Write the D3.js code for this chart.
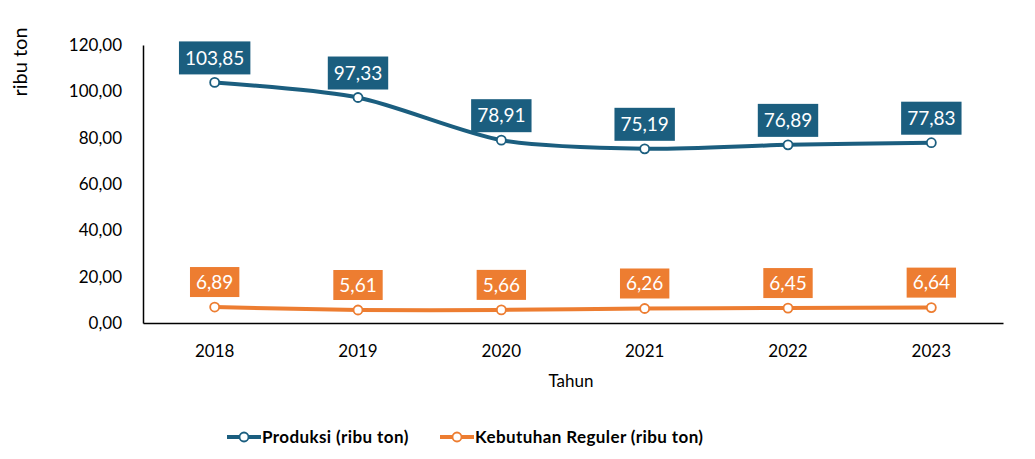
<!DOCTYPE html>
<html>
<head>
<meta charset="utf-8">
<script src="https://cdn.jsdelivr.net/npm/d3@7"></script>
<style>
  body { margin: 0; background: #fff; }
  text { font-family: Lato, "Open Sans", sans-serif; }
</style>
</head>
<body>
<div id="chart"></div>
<script>
  // data
  var years = ["2018", "2019", "2020", "2021", "2022", "2023"]
  var produksi = [103.85, 97.33, 78.91, 75.19, 76.89, 77.83]
  var kebutuhan = [6.89, 5.61, 5.66, 6.26, 6.45, 6.64]
  var yTicks = [0, 20, 40, 60, 80, 100, 120]
  var seriesNames = ["Produksi (ribu ton)", "Kebutuhan Reguler (ribu ton)"]
  var colors = ["#1b5e7f", "#ed7d31"]

  var width = 1035, height = 459
  var plotLeft = 143, plotRight = 1003, plotTop = 45, plotBottom = 323

  var svg = d3.select("#chart").append("svg")
    .attr("width", width)
    .attr("height", height)

  var x = d3.scaleBand().domain(years).range([plotLeft, plotRight])
  var y = d3.scaleLinear().domain([0, 120]).range([plotBottom, plotTop])

  var fmt = function(v) { return d3.format(".2f")(v).replace(".", ",") }

  // y axis
  var yAxis = svg.append("g")
    .attr("transform", "translate(" + plotLeft + ",0)")
    .call(d3.axisLeft(y).tickValues(yTicks).tickFormat(fmt).tickSize(0).tickPadding(21))
  yAxis.select(".domain").attr("stroke", "#000").attr("stroke-width", 1.5)
  yAxis.selectAll("text").attr("font-size", 17).attr("fill", "#000")
    .style("font-family", "Lato, sans-serif")

  // x axis
  var xAxis = svg.append("g")
    .attr("transform", "translate(0," + plotBottom + ")")
    .call(d3.axisBottom(x).tickSize(0).tickPadding(22))
  xAxis.select(".domain").attr("stroke", "#000").attr("stroke-width", 1.5)
  xAxis.selectAll("text").attr("font-size", 17).attr("fill", "#000")
    .style("font-family", "Lato, sans-serif")

  // axis titles
  svg.append("text")
    .attr("transform", "translate(27,62) rotate(-90)")
    .attr("text-anchor", "middle")
    .attr("font-size", 20)
    .text("ribu ton")

  svg.append("text")
    .attr("x", 571).attr("y", 387)
    .attr("text-anchor", "middle")
    .attr("font-size", 17)
    .text("Tahun")

  var cx = function(d, i) { return x(years[i]) + x.bandwidth() / 2 }

  var series = [produksi, kebutuhan]

  series.forEach(function(values, s) {
    var line = d3.line()
      .x(function(d, i) { return cx(d, i) })
      .y(function(d) { return y(d) })
      .curve(d3.curveCardinal.tension(0.2))

    svg.append("path")
      .datum(values)
      .attr("d", line)
      .attr("fill", "none")
      .attr("stroke", colors[s])
      .attr("stroke-width", 4)

    svg.append("g").selectAll("circle")
      .data(values)
      .enter().append("circle")
      .attr("cx", cx)
      .attr("cy", function(d) { return y(d) })
      .attr("r", 4.5)
      .attr("fill", "#fff")
      .attr("stroke", colors[s])
      .attr("stroke-width", 1.8)

    // value labels in boxes
    var boxH = s === 0 ? 33 : 30
    var gap = s === 0 ? 8 : 10
    var labels = svg.append("g").selectAll("g")
      .data(values)
      .enter().append("g")

    labels.append("text")
      .attr("x", cx)
      .attr("y", function(d) { return y(d) - gap - boxH / 2 })
      .attr("dy", "0.35em")
      .attr("text-anchor", "middle")
      .attr("font-size", 19)
      .attr("fill", "#fff")
      .text(fmt)
      .each(function() {
        var bb = this.getBBox()
        d3.select(this.parentNode).insert("rect", "text")
          .attr("x", bb.x - 6)
          .attr("y", +d3.select(this).attr("y") - boxH / 2)
          .attr("width", bb.width + 12)
          .attr("height", boxH)
          .attr("fill", colors[s])
      })
  })

  // legend
  var legendItems = [{ x: 227, name: seriesNames[0], c: colors[0] }, { x: 440, name: seriesNames[1], c: colors[1] }]
  var legend = svg.append("g").selectAll("g")
    .data(legendItems)
    .enter().append("g")
    .attr("transform", function(d) { return "translate(" + d.x + ",437)" })

  legend.append("line")
    .attr("x1", 0).attr("x2", 34)
    .attr("stroke", function(d) { return d.c })
    .attr("stroke-width", 4)
  legend.append("circle")
    .attr("cx", 17).attr("r", 4.5)
    .attr("fill", "#fff")
    .attr("stroke", function(d) { return d.c })
    .attr("stroke-width", 1.8)
  legend.append("text")
    .attr("x", 35).attr("dy", "0.35em")
    .attr("font-size", 17)
    .attr("font-weight", "bold")
    .attr("letter-spacing", 0.4)
    .text(function(d) { return d.name })
</script>
</body>
</html>
